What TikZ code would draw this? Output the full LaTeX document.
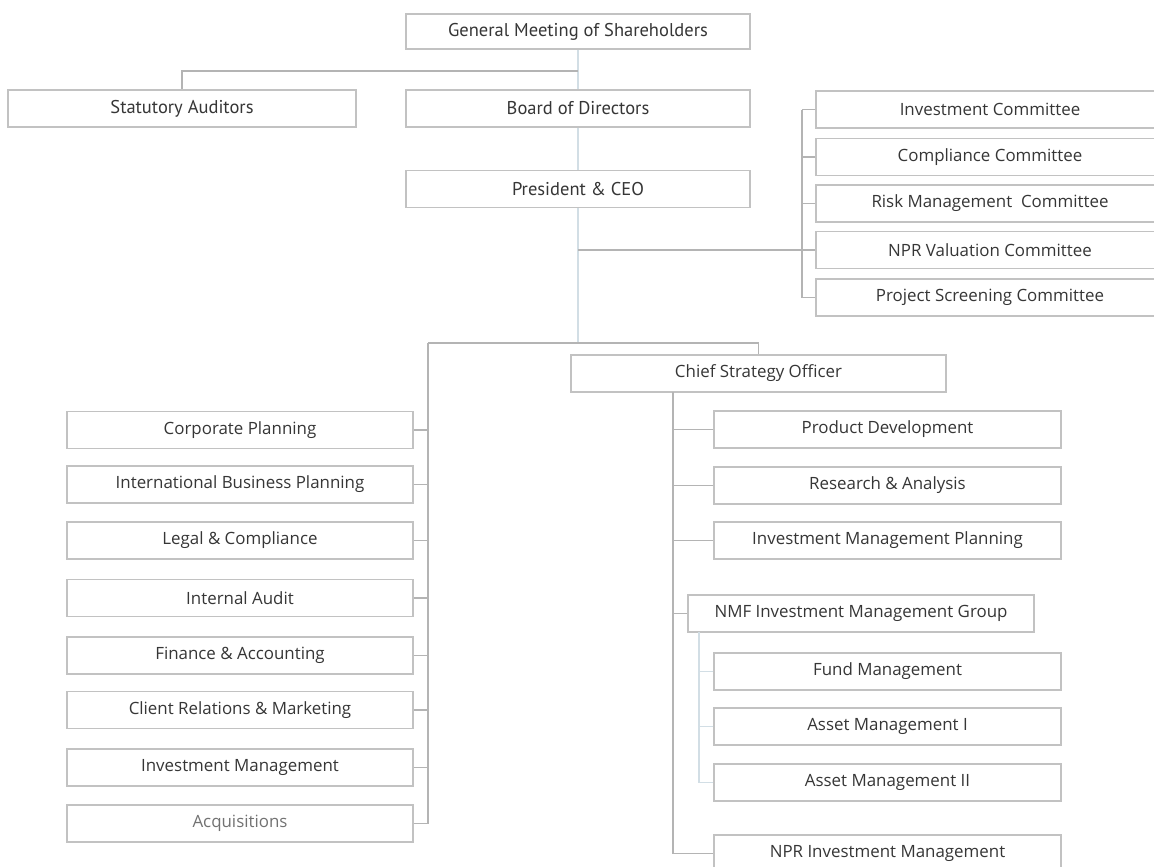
\documentclass[tikz,border=0pt]{standalone}
\usepackage{fontspec}
\setmainfont{PT Sans}
\newfontfamily\widefont{Open Sans}
\definecolor{boxc}{HTML}{C2C2C2}
\definecolor{linec}{HTML}{B4B4B4}
\definecolor{lineb}{HTML}{D2DEE5}
\definecolor{txt}{HTML}{363636}
\begin{document}
\begin{tikzpicture}[x=1pt,y=-1pt,
  box/.style={draw=boxc, line width=1.3pt, fill=white, text=txt, inner sep=0pt, minimum height=37pt},
  nfont/.style={font=\fontsize{18.5}{20}\selectfont},
  wfont/.style={font=\widefont\fontsize{16.9}{19}\selectfont},
  conn/.style={draw=linec, line width=1.3pt},
  connb/.style={draw=lineb, line width=1.6pt}]
\fill[white] (0,0) rectangle (1154,867);
\useasboundingbox (0,0) rectangle (1154,867);
% top
\node[box,nfont,minimum width=344pt,minimum height=35pt] (gm) at (578,31.5) {General Meeting of Shareholders};
\node[box,nfont,minimum width=348pt] (sa) at (182,108.5) {Statutory Auditors};
\node[box,nfont,minimum width=344pt] (bod) at (578,108.5) {Board of Directors};
\node[box,nfont,minimum width=344pt] (pres) at (578,189) {President \& CEO};
% committees
\node[box,wfont,minimum width=348pt] (c1) at (990,109.5) {Investment Committee};
\node[box,wfont,minimum width=348pt] (c2) at (990,157) {Compliance Committee};
\node[box,wfont,minimum width=348pt] (c3) at (990,203.5) {Risk Management\ \ Committee};
\node[box,wfont,minimum width=348pt] (c4) at (990,250) {NPR Valuation Committee};
\node[box,wfont,minimum width=348pt] (c5) at (990,297.5) {Project Screening Committee};
% chief strategy
\node[box,wfont,minimum width=375pt] (cso) at (758.5,373.5) {Chief Strategy Officer};
% right column
\node[box,wfont,minimum width=347pt] (pd) at (887.5,429.5) {Product Development};
\node[box,wfont,minimum width=347pt] (ra) at (887.5,485.5) {Research \& Analysis};
\node[box,wfont,minimum width=347pt] (imp) at (887.5,540.5) {Investment Management Planning};
\node[box,wfont,minimum width=346pt] (nmf) at (861,613.5) {NMF Investment Management Group};
\node[box,wfont,minimum width=347pt] (fm) at (887.5,671.5) {Fund Management};
\node[box,wfont,minimum width=347pt] (am1) at (887.5,726.5) {Asset Management I};
\node[box,wfont,minimum width=347pt] (am2) at (887.5,782.5) {Asset Management II};
\node[box,wfont,minimum width=347pt] (npr) at (887.5,853.5) {NPR Investment Management};
% left column
\node[box,wfont,minimum width=346pt] (cp) at (240,430) {Corporate Planning};
\node[box,wfont,minimum width=346pt] (ibp) at (240,484.5) {International Business Planning};
\node[box,wfont,minimum width=346pt] (lc) at (240,540.5) {Legal \& Compliance};
\node[box,wfont,minimum width=346pt] (ia) at (240,598) {Internal Audit};
\node[box,wfont,minimum width=346pt] (fa) at (240,655.5) {Finance \& Accounting};
\node[box,wfont,minimum width=346pt] (cr) at (240,710) {Client Relations \& Marketing};
\node[box,wfont,minimum width=346pt] (im) at (240,767.5) {Investment Management};
\node[box,wfont,minimum width=346pt,text=txt!70] (acq) at (240,823.5) {Acquisitions};
% junctions
\coordinate (j1) at (578,71);
\coordinate (j3) at (578,250);
\coordinate (cs) at (802,250);
\coordinate (j2) at (578,343);
\coordinate (ls) at (428,343);
\coordinate (rs) at (673,392);
\coordinate (ns) at (699,632);
% connectors top
\draw[connb] (gm.south) -- (bod.north);
\draw[conn] (j1) -| (sa.north);
\draw[connb] (bod.south) -- (pres.north);
\draw[connb] (pres.south) -- (j2);
% committees
\draw[conn] (j3) -- (cs);
\draw[conn] (c1.west -| cs) -- (c5.west -| cs);
\foreach \c in {c1,c2,c3,c4,c5} \draw[conn] (\c.west) -- (\c.west -| cs);
% lower
\draw[conn] (cso.north) |- (ls);
\draw[conn] (ls) -- (acq.east -| ls);
\foreach \c in {cp,ibp,lc,ia,fa,cr,im,acq} \draw[conn] (\c.east) -- (\c.east -| ls);
% right spine
\draw[conn] (rs) -- (npr.west -| rs) -- (npr.west);
\foreach \c in {pd,ra,imp,nmf} \draw[conn] (\c.west) -- (\c.west -| rs);
% NMF sub spine
\draw[connb] (ns) -- (am2.west -| ns) -- (am2.west);
\foreach \c in {fm,am1} \draw[connb] (\c.west) -- (\c.west -| ns);
\end{tikzpicture}
\end{document}
